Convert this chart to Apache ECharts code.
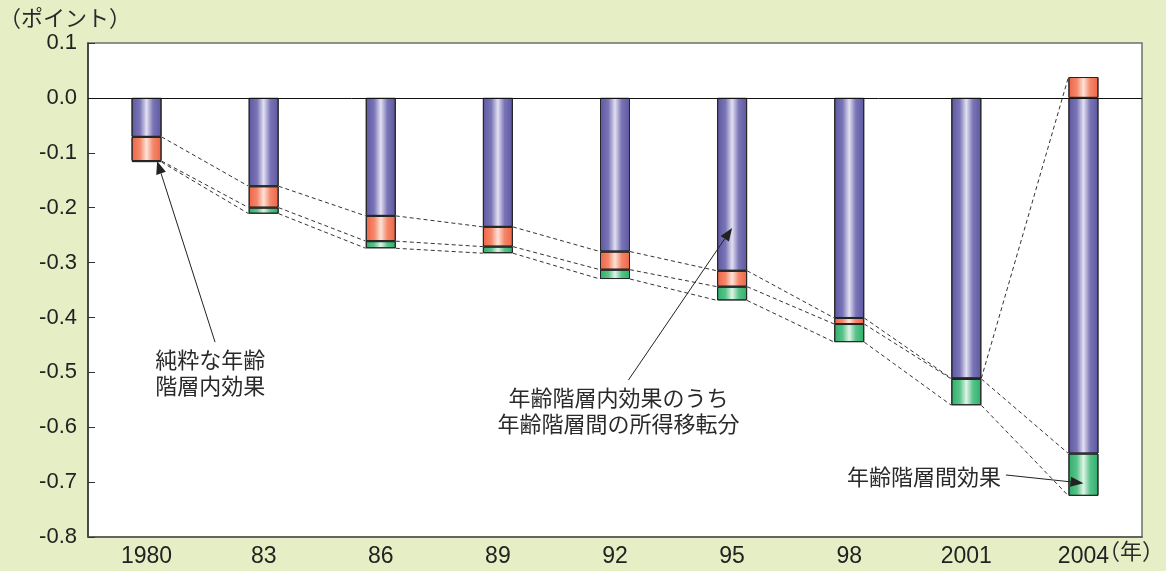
<!DOCTYPE html>
<html>
<head>
<meta charset="utf-8">
<script src="https://cdn.jsdelivr.net/npm/echarts@6/dist/echarts.min.js"></script>
<style>
  html, body { margin: 0; padding: 0; background: #e5eec5; }
  #chart { width: 1166px; height: 571px; }
</style>
</head>
<body>
<div id="chart"></div>
<script>
// Survey years (category axis)
const categories = ['1980', '83', '86', '89', '92', '95', '98', '2001', '2004'];
// 年齢階層内効果のうち年齢階層間の所得移転分 (points)
const transferWithin = [-0.071, -0.161, -0.215, -0.235, -0.280, -0.315, -0.401, -0.511, -0.648];
// 純粋な年齢階層内効果 (points)
const pureWithin = [-0.044, -0.039, -0.046, -0.036, -0.033, -0.029, -0.011, -0.001, 0.038];
// 年齢階層間効果 (points)
const between = [-0.002, -0.011, -0.013, -0.012, -0.017, -0.025, -0.033, -0.048, -0.077];
// Value axis range and step
const yMin = -0.8;
const yMax = 0.1;
const yStep = 0.1;

const NUM_FONT = '"Liberation Sans", Arial, Helvetica, sans-serif';
const JP_FONT = '"Noto Sans CJK JP", "Noto Sans", sans-serif';
const BAR_W = 30;

// Cylinder-like shading: dark edges, bright centre stripe
function shade(edge, inner, mid) {
  return new echarts.graphic.LinearGradient(0, 0, 1, 0, [
    { offset: 0, color: edge },
    { offset: 0.28, color: inner },
    { offset: 0.5, color: mid },
    { offset: 0.72, color: inner },
    { offset: 1, color: edge }
  ]);
}

// Stack boundaries used by the dashed connector lines
const topEdge = categories.map((_, i) => pureWithin[i] >= 0 ? pureWithin[i] : transferWithin[i]);
const midEdge = categories.map((_, i) => transferWithin[i] + Math.min(pureWithin[i], 0));
const botEdge = categories.map((_, i) => midEdge[i] + between[i]);

const chart = echarts.init(document.getElementById('chart'), null, { renderer: 'canvas' });

const barBase = {
  type: 'bar',
  stack: 'total',
  barWidth: BAR_W,
  emphasis: { disabled: true },
  animation: false
};

chart.setOption({
  backgroundColor: '#e5eec5',
  animation: false,
  grid: {
    left: 88, right: 24, top: 43, bottom: 34,
    show: true, backgroundColor: '#ffffff', borderColor: '#6f6f6f', borderWidth: 1.5
  },
  xAxis: {
    type: 'category',
    data: categories,
    axisLine: { onZero: false, lineStyle: { color: '#555', width: 1.5 } },
    axisTick: { show: false },
    axisLabel: { color: '#222', fontFamily: NUM_FONT, fontSize: 23, margin: 8 },
    splitLine: { show: false }
  },
  yAxis: {
    type: 'value',
    min: yMin, max: yMax, interval: yStep,
    axisLine: { show: true, lineStyle: { color: '#333', width: 1.5 } },
    axisTick: { show: true, inside: true, length: 7, lineStyle: { color: '#333' } },
    axisLabel: {
      color: '#222', fontFamily: NUM_FONT, fontSize: 22, margin: 11,
      formatter: v => (Math.abs(v) < 1e-9 ? 0 : v).toFixed(1)
    },
    splitLine: { show: false }
  },
  series: [
    {
      ...barBase,
      name: '年齢階層内効果のうち年齢階層間の所得移転分',
      data: transferWithin,
      itemStyle: { color: shade('#5d57a1', '#7a75b6', '#e2e0f2'), borderColor: '#262626', borderWidth: 1 },
      markLine: {
        silent: true, symbol: 'none', animation: false,
        label: { show: false },
        lineStyle: { color: '#111', width: 1, type: 'solid' },
        data: [{ yAxis: 0 }]
      },
      z: 3
    },
    {
      ...barBase,
      name: '純粋な年齢階層内効果',
      data: pureWithin,
      itemStyle: { color: shade('#ef6445', '#f4876a', '#fee3d8'), borderColor: '#262626', borderWidth: 1 },
      z: 3
    },
    {
      ...barBase,
      name: '年齢階層間効果',
      data: between,
      itemStyle: { color: shade('#2daf6b', '#58c389', '#e0f4e7'), borderColor: '#262626', borderWidth: 1 },
      z: 3
    },
    {
      type: 'custom',
      name: 'connectors',
      silent: true,
      animation: false,
      z: 2,
      data: categories.slice(0, -1).map((_, i) => [i, topEdge[i]]),
      renderItem: function (params, api) {
        const i = api.value(0);
        const hw = BAR_W / 2;
        const edges = [topEdge, midEdge, botEdge];
        const children = edges.map(arr => {
          const a = api.coord([i, arr[i]]);
          const b = api.coord([i + 1, arr[i + 1]]);
          return {
            type: 'line',
            shape: { x1: a[0] + hw, y1: a[1], x2: b[0] - hw, y2: b[1] },
            style: { stroke: '#333', lineWidth: 1, lineDash: [4, 3] }
          };
        });
        return { type: 'group', children: children };
      }
    }
  ]
});

// Callout annotations, placed in data space: [category position, value]
const callouts = [
  { text: '純粋な年齢\n階層内効果', at: [0.543, -0.50], align: 'center',
    from: [0.585, -0.445], to: [0.09, -0.115] },
  { text: '年齢階層内効果のうち\n年齢階層間の所得移転分', at: [4.03, -0.569], align: 'center',
    from: [4.115, -0.514], to: [5.0, -0.237] },
  { text: '年齢階層間効果', at: [7.295, -0.6905], align: 'right',
    from: [7.338, -0.687], to: [8.0, -0.702] }
];

function toPx(p) {
  const c = p[0], v = p[1];
  const i0 = Math.min(Math.floor(c), categories.length - 2);
  const a = chart.convertToPixel({ gridIndex: 0 }, [i0, v]);
  const b = chart.convertToPixel({ gridIndex: 0 }, [i0 + 1, v]);
  return [a[0] + (c - i0) * (b[0] - a[0]), a[1]];
}

function arrow(p1, p2) {
  const dx = p2[0] - p1[0], dy = p2[1] - p1[1];
  const len = Math.sqrt(dx * dx + dy * dy);
  const ux = dx / len, uy = dy / len;
  const headL = 13, headW = 5;
  const bx = p2[0] - ux * headL, by = p2[1] - uy * headL;
  return [
    { type: 'line', silent: true, z: 10,
      shape: { x1: p1[0], y1: p1[1], x2: bx, y2: by },
      style: { stroke: '#222', lineWidth: 1 } },
    { type: 'polygon', silent: true, z: 10,
      shape: { points: [p2, [bx - uy * headW, by + ux * headW], [bx + uy * headW, by - ux * headW]] },
      style: { fill: '#222' } }
  ];
}

const graphics = [];
callouts.forEach(c => {
  const pt = toPx(c.at);
  graphics.push({
    type: 'text', silent: true, z: 10,
    x: pt[0], y: pt[1],
    style: {
      text: c.text, fill: '#2a2a2a', font: '22px ' + JP_FONT,
      align: c.align, verticalAlign: 'middle', lineHeight: 26
    }
  });
  graphics.push(...arrow(toPx(c.from), toPx(c.to)));
});

graphics.push({
  type: 'text', silent: true, x: -1, y: 18,
  style: { text: '（ポイント）', fill: '#2a2a2a', font: '22px ' + JP_FONT, align: 'left', verticalAlign: 'middle' }
});
graphics.push({
  type: 'text', silent: true, x: 1098, y: 551,
  style: { text: '（年）', fill: '#2a2a2a', font: '22px ' + JP_FONT, align: 'left', verticalAlign: 'middle' }
});

chart.setOption({ graphic: graphics });
</script>
</body>
</html>
